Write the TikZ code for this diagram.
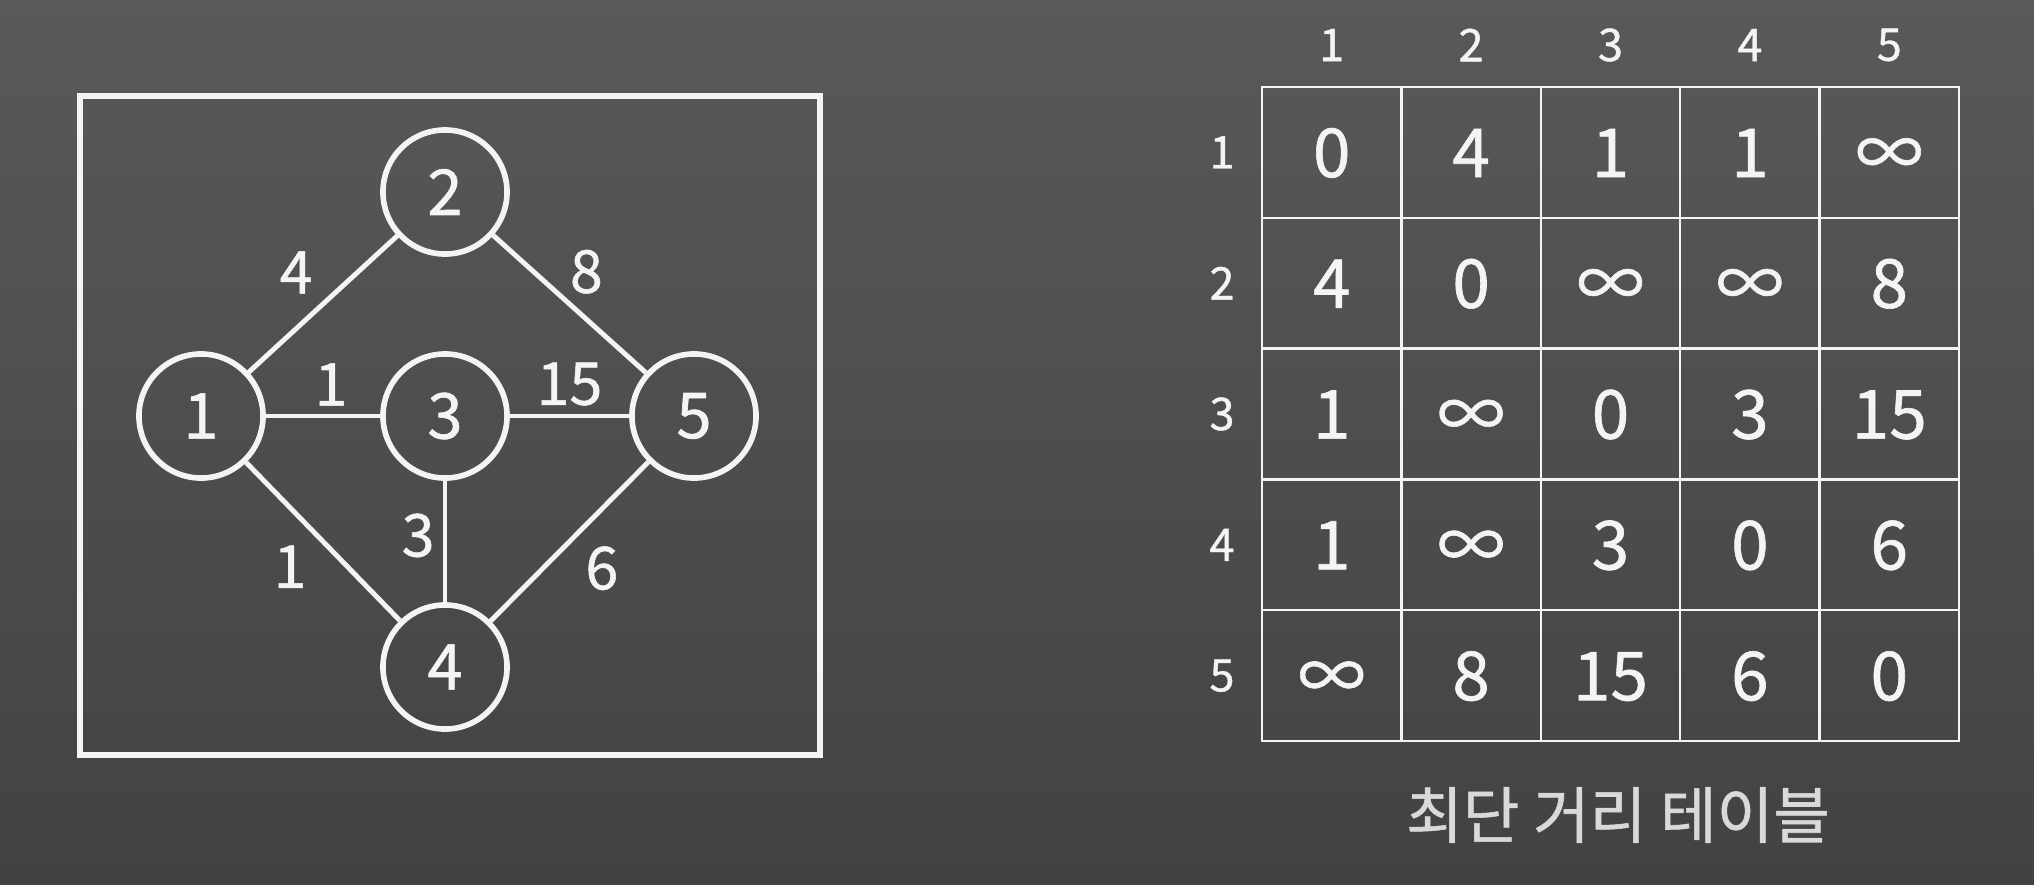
\documentclass[tikz,border=0pt]{standalone}
\usepackage{fontspec}
\setmainfont{Noto Sans CJK KR}[FakeBold=0.9]
\usepackage{tikz}

\definecolor{bgtop}{HTML}{5A5859}
\definecolor{bgmid}{HTML}{535152}
\definecolor{bgbot}{HTML}{434243}
\definecolor{linecol}{HTML}{F4F4F4}
\definecolor{captioncol}{HTML}{D9D9D9}

\begin{document}
\begin{tikzpicture}[x=0.01cm, y=-0.01cm,
        vertex/.style={draw=linecol, circle, line width=1.6pt, minimum size=1.24cm, inner sep=0pt, text=linecol, font=\fontsize{18}{21}\selectfont},
        weight/.style={text=linecol, inner sep=0.08cm, font=\fontsize{16.8}{20}\selectfont},
        link/.style={draw=linecol, line width=1.4pt},
        cell/.style={draw=linecol, line width=0.65pt, minimum width=1.394cm, minimum height=1.308cm, inner sep=0pt, text height=14pt, text depth=0pt, text=linecol, font=\fontsize{19.2}{23}\selectfont},
        head/.style={text=linecol, font=\fontsize{12.8}{15}\selectfont}]
        % Background
        \useasboundingbox (0,0) rectangle (2034,884);
        \shade [top color=bgtop, middle color=bgmid, bottom color=bgbot] (0,0) rectangle (2034,884);

        % Nodes for the graph
        \draw [linecol, line width=1.6pt] (80,96) rectangle (820,755);
        \node [vertex] (n1) at (201,416) {1};
        \node [vertex] (n2) at (445,192) {2};
        \node [vertex] (n3) at (445,416) {3};
        \node [vertex] (n4) at (445,667) {4};
        \node [vertex] (n5) at (694,416) {5};

        % Weighted edges
        \draw [link] (n1) -- node [weight, anchor=south east] {4} (n2);
        \draw [link] (n2) -- node [weight, anchor=south west, xshift=-0.1cm] {8} (n5);
        \draw [link] (n1) -- node [weight, anchor=south, xshift=0.08cm] {1} (n3);
        \draw [link] (n3) -- node [weight, anchor=south] {15} (n5);
        \draw [link] (n1) -- node [weight, anchor=north east, pos=0.46] {1} (n4);
        \draw [link] (n3) -- node [weight, anchor=east, pos=0.45] {3} (n4);
        \draw [link] (n4) -- node [weight, anchor=north west, pos=0.535] {6} (n5);

        % Distance table
        \foreach \c in {1,...,5}
            \node [head] (col\c) at ({1262+139.4*\c-69.7}, 45) {\c};
        \foreach \r in {1,...,5}
            \node [head] (row\r) at (1222, {87+130.8*\r-65.4}) {\r};
        \foreach \line [count=\r] in {{0,4,1,1,∞},{4,0,∞,∞,8},{1,∞,0,3,15},{1,∞,3,0,6},{∞,8,15,6,0}}
            \foreach \val [count=\c] in \line
                \node [cell] (c\r\c) at ({1262+139.4*\c-69.7}, {87+130.8*\r-65.4}) {\val};

        \node [text=captioncol, font=\fontsize{17.5}{21}\selectfont] (title) at (1618,815) {최단 거리 테이블};
    \end{tikzpicture}
\end{document}
